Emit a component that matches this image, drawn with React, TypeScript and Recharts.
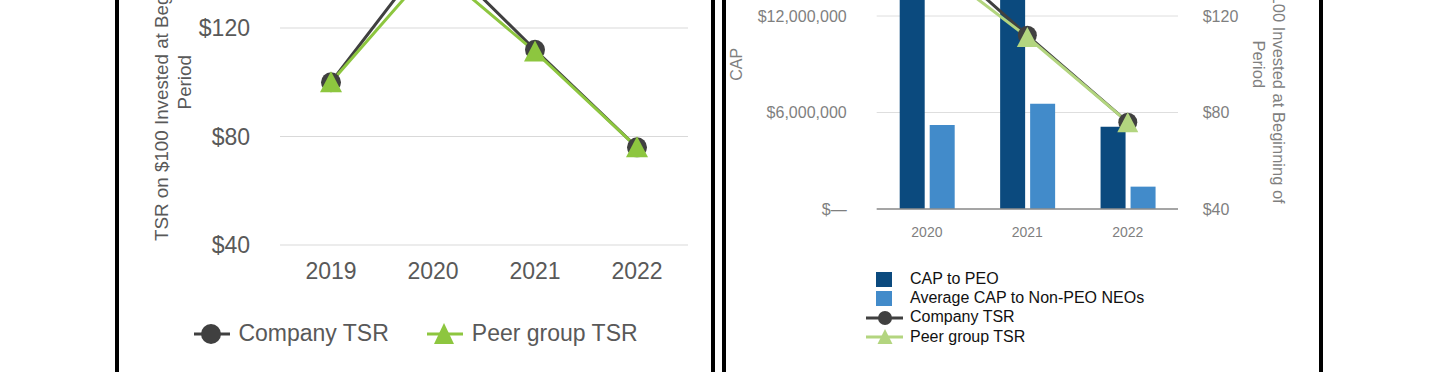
import React from 'react'
import { Bar, CartesianGrid, ComposedChart, Legend, Line, LineChart, XAxis, YAxis } from 'recharts'

const FONT = '"Liberation Sans", Arial, Helvetica, sans-serif'

// TSR on $100 invested
const tsrYears = ['2019', '2020', '2021', '2022']
const companyTsr = [100, 149, 112, 76]
const peerTsr = [100, 143, 111.3, 76]

// CAP panel (right)
const capYears = ['2020', '2021', '2022']
const capToPeo = [15200000, 14600000, 5120000]
const capToNonPeo = [5220000, 6550000, 1390000]

const tsrTicks = [40, 80, 120, 160]
const capTicks = [0, 6000000, 12000000, 18000000]

const DARK = '#404040'
const GREEN = '#8dc63f'
const LIGHT_GREEN = '#b3d57f'
const NAVY = '#0b4a7e'
const BLUE = '#428bca'

const tsrData = tsrYears.map((year, i) => ({ year, company: companyTsr[i], peer: peerTsr[i] }))
const capData = capYears.map((year, i) => {
  const j = tsrYears.indexOf(year)
  return { year, peo: capToPeo[i], nonPeo: capToNonPeo[i], company: companyTsr[j], peer: peerTsr[j] }
})

const money = (v: number) => (v === 0 ? '$—' : `$${v.toLocaleString('en-US')}`)

function AxisTitle(props: any) {
  const { viewBox, lines, offsets, turn, titleFill, titleSize } = props
  if (!viewBox) return null
  const cy = viewBox.y + viewBox.height / 2
  return (
    <g>
      {lines.map((t: string, i: number) => {
        const cx = viewBox.x + offsets[i]
        return (
          <text
            key={i}
            x={0}
            y={0}
            transform={`translate(${cx} ${cy}) rotate(${turn})`}
            textAnchor="middle"
            dominantBaseline="central"
            fill={titleFill}
            fontSize={titleSize}
            fontFamily={FONT}
          >
            {t}
          </text>
        )
      })}
    </g>
  )
}

function tri(cx: number, cy: number, w: number, up: number, down: number) {
  return `${cx},${cy - up} ${cx - w / 2},${cy + down} ${cx + w / 2},${cy + down}`
}

const circleDot = (r: number, fill: string) => (p: any) =>
  p.cx == null ? <g key={p.index} /> : <circle key={p.index} cx={p.cx} cy={p.cy} r={r} fill={fill} />

const triangleDot = (w: number, up: number, down: number, fill: string) => (p: any) =>
  p.cx == null ? <g key={p.index} /> : <polygon key={p.index} points={tri(p.cx, p.cy, w, up, down)} fill={fill} />

function TsrLegend() {
  return (
    <div
      style={{
        display: 'flex',
        justifyContent: 'center',
        alignItems: 'center',
        height: 30,
        fontFamily: FONT,
        fontSize: 23,
        color: '#595959',
      }}
    >
      <svg width={36} height={26}>
        <line x1={0} x2={36} y1={14} y2={14} stroke={DARK} strokeWidth={3} />
        <circle cx={17} cy={14} r={10} fill={DARK} />
      </svg>
      <span style={{ marginLeft: 8 }}>Company TSR</span>
      <svg width={36} height={26} style={{ marginLeft: 38 }}>
        <line x1={0} x2={36} y1={14} y2={14} stroke={GREEN} strokeWidth={3} />
        <polygon points={tri(17, 14, 20, 11, 10)} fill={GREEN} />
      </svg>
      <span style={{ marginLeft: 9 }}>Peer group TSR</span>
    </div>
  )
}

function CapLegend() {
  const row = { display: 'flex', alignItems: 'center', height: 19.2 }
  return (
    <div style={{ fontFamily: FONT, fontSize: 16, color: '#111' }}>
      <div style={row}>
        <svg width={37} height={19}>
          <rect x={10} y={2} width={16} height={15} fill={NAVY} />
        </svg>
        <span style={{ marginLeft: 7 }}>CAP to PEO</span>
      </div>
      <div style={row}>
        <svg width={37} height={19}>
          <rect x={10} y={2} width={16} height={15} fill={BLUE} />
        </svg>
        <span style={{ marginLeft: 7 }}>Average CAP to Non-PEO NEOs</span>
      </div>
      <div style={row}>
        <svg width={37} height={19}>
          <line x1={0} x2={37} y1={10} y2={10} stroke={DARK} strokeWidth={3} />
          <circle cx={19} cy={10} r={7} fill={DARK} />
        </svg>
        <span style={{ marginLeft: 7 }}>Company TSR</span>
      </div>
      <div style={row}>
        <svg width={37} height={19}>
          <line x1={0} x2={37} y1={10} y2={10} stroke={LIGHT_GREEN} strokeWidth={3} />
          <polygon points={tri(19, 10, 15, 8, 7)} fill={LIGHT_GREEN} />
        </svg>
        <span style={{ marginLeft: 7 }}>Peer group TSR</span>
      </div>
    </div>
  )
}

const panel = (left: number, width: number): React.CSSProperties => ({
  position: 'absolute',
  left,
  top: -300,
  width,
  height: 1000,
  border: '4px solid #000',
  boxSizing: 'border-box',
})

export default function App() {
  return (
    <div style={{ position: 'fixed', left: 0, top: 0, width: 1440, height: 372, overflow: 'hidden', background: '#fff' }}>
      <div style={panel(115, 600)} />
      <div style={panel(722, 601)} />

      <div style={{ position: 'absolute', left: 130, top: -120 }}>
        <LineChart width={580} height={500} data={tsrData} margin={{ top: 39.5, right: 22, bottom: 95, left: 0 }}>
          <CartesianGrid vertical={false} stroke="#d9d9d9" />
          <XAxis
            dataKey="year"
            padding={{ left: 51, right: 51 }}
            axisLine={false}
            tickLine={false}
            tickSize={0}
            tickMargin={18}
            interval={0}
            height={40}
            tick={{ fontSize: 23, fill: '#595959', fontFamily: FONT }}
          />
          <YAxis
            width={150}
            domain={[40, 160]}
            ticks={tsrTicks}
            interval={0}
            axisLine={false}
            tickLine={false}
            tickSize={0}
            tickMargin={30}
            tick={{ fontSize: 23, fill: '#595959', fontFamily: FONT }}
            tickFormatter={(v: number) => `$${v}`}
            label={
              <AxisTitle
                lines={['TSR on $100 Invested at Beginning of', 'Period']}
                offsets={[31, 54]}
                turn={-90}
                titleFill="#595959"
                titleSize={18.8}
              />
            }
          />
          <Line
            dataKey="company"
            stroke={DARK}
            strokeWidth={3}
            dot={circleDot(10, DARK)}
            activeDot={false}
            isAnimationActive={false}
          />
          <Line
            dataKey="peer"
            stroke={GREEN}
            strokeWidth={3}
            dot={triangleDot(22, 11, 10, GREEN)}
            activeDot={false}
            isAnimationActive={false}
          />
          <Legend
            verticalAlign="middle"
            align="center"
            wrapperStyle={{ left: -14, top: 438, width: 600 }}
            content={() => <TsrLegend />}
          />
        </LineChart>
      </div>

      <div style={{ position: 'absolute', left: 726, top: -120 }}>
        <ComposedChart
          width={590}
          height={500}
          data={capData}
          barGap={5}
          margin={{ top: 39.5, right: 38, bottom: 141, left: 0 }}
        >
          <CartesianGrid vertical={false} stroke="#dedede" yAxisId="cap" />
          <XAxis
            dataKey="year"
            axisLine={{ stroke: '#8c8c8c', strokeWidth: 1.5 }}
            tickLine={false}
            tickSize={0}
            tickMargin={18}
            interval={0}
            height={30}
            tick={{ fontSize: 14, fill: '#7f7f7f', fontFamily: FONT }}
          />
          <YAxis
            yAxisId="cap"
            width={150.7}
            domain={[0, 18000000]}
            ticks={capTicks}
            interval={0}
            axisLine={false}
            tickLine={false}
            tickSize={0}
            tickMargin={30}
            tick={{ fontSize: 16, fill: '#7f7f7f', fontFamily: FONT }}
            tickFormatter={money}
            label={<AxisTitle lines={['CAP']} offsets={[10.5]} turn={-90} titleFill="#7f7f7f" titleSize={16} />}
          />
          <YAxis
            yAxisId="tsr"
            orientation="right"
            width={100}
            domain={[40, 160]}
            ticks={tsrTicks}
            interval={0}
            axisLine={false}
            tickLine={false}
            tickSize={0}
            tickMargin={24.7}
            tick={{ fontSize: 16, fill: '#7f7f7f', fontFamily: FONT, textAnchor: 'start' }}
            tickFormatter={(v: number) => `$${v}`}
            label={
              <AxisTitle
                lines={['TSR on $100 Invested at Beginning of', 'Period']}
                offsets={[101, 81]}
                turn={90}
                titleFill="#7f7f7f"
                titleSize={16.5}
              />
            }
          />
          <Bar yAxisId="cap" dataKey="peo" fill={NAVY} barSize={25} isAnimationActive={false} />
          <Bar yAxisId="cap" dataKey="nonPeo" fill={BLUE} barSize={25} isAnimationActive={false} />
          <Line
            yAxisId="tsr"
            dataKey="company"
            stroke={DARK}
            strokeWidth={3}
            dot={circleDot(9.5, DARK)}
            activeDot={false}
            isAnimationActive={false}
          />
          <Line
            yAxisId="tsr"
            dataKey="peer"
            stroke={LIGHT_GREEN}
            strokeWidth={3}
            dot={triangleDot(21, 10, 10, LIGHT_GREEN)}
            activeDot={false}
            isAnimationActive={false}
          />
          <Legend
            verticalAlign="middle"
            align="center"
            wrapperStyle={{ left: 140, top: 389.5, width: 300 }}
            content={() => <CapLegend />}
          />
        </ComposedChart>
      </div>
    </div>
  )
}
